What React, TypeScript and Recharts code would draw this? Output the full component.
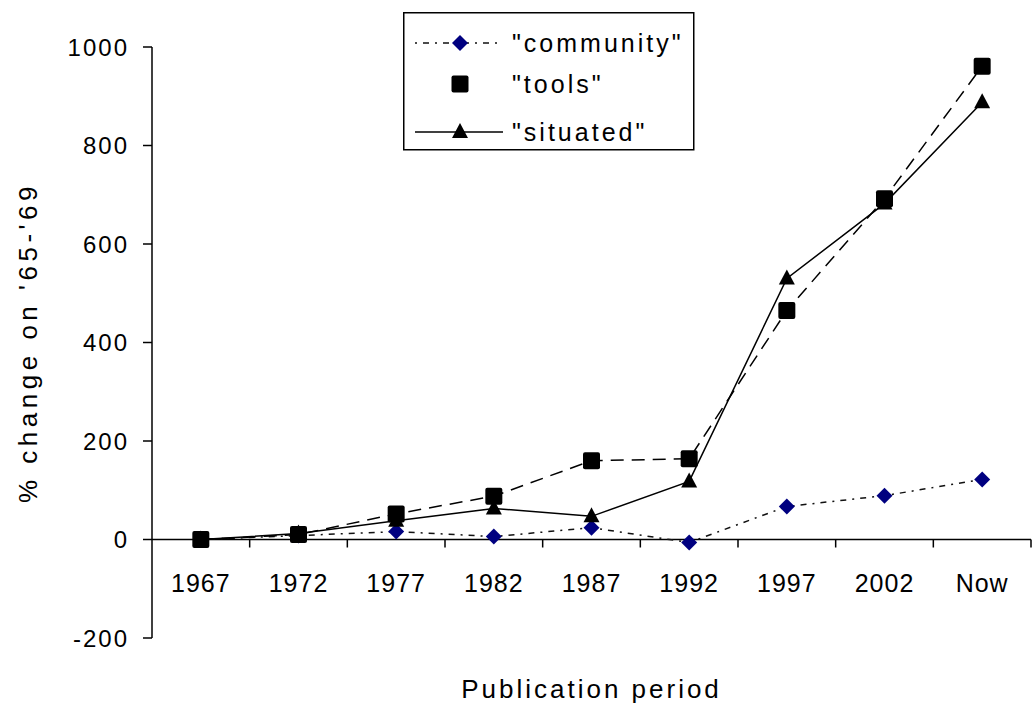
import React from 'react';
import { LineChart, Line, XAxis, YAxis, ReferenceLine, Legend } from 'recharts';

const categories = ['1967', '1972', '1977', '1982', '1987', '1992', '1997', '2002', 'Now'];
const community = [0, 8, 16, 6, 24, -6, 67, 89, 122];
const tools = [0, 10, 52, 88, 160, 164, 465, 692, 961];
const situated = [0, 12, 38, 63, 47, 118, 530, 682, 888];
const yTicks = [-200, 0, 200, 400, 600, 800, 1000];
const seriesNames = ['"community"', '"tools"', '"situated"'];
const yTitle = "% change on '65-'69";
const xTitle = 'Publication period';

const data = categories.map((c, i) => ({
  cat: c,
  community: community[i],
  tools: tools[i],
  situated: situated[i],
}));

const W = 1032;
const H = 710;
const PLOT_LEFT = 152;
const PLOT_RIGHT = 1031;
const PLOT_TOP = 47;
const PLOT_BOTTOM = 638;
const Y_MIN = -200;
const Y_MAX = 1000;
const BAND = (PLOT_RIGHT - PLOT_LEFT) / categories.length;
const ZERO_Y = PLOT_TOP + ((PLOT_BOTTOM - PLOT_TOP) * (Y_MAX - 0)) / (Y_MAX - Y_MIN);

const FONT = '"Liberation Sans", Arial, sans-serif';
const NAVY = '#000080';

const Square = (props: any) => {
  const { cx, cy } = props;
  if (cx == null || cy == null) return null;
  return <rect x={cx - 8.5} y={cy - 8.5} width={17} height={17} rx={2} fill="#000" />;
};
const Diamond = (props: any) => {
  const { cx, cy } = props;
  if (cx == null || cy == null) return null;
  return <polygon points={`${cx},${cy - 8} ${cx + 8},${cy} ${cx},${cy + 8} ${cx - 8},${cy}`} fill={NAVY} />;
};
const Triangle = (props: any) => {
  const { cx, cy } = props;
  if (cx == null || cy == null) return null;
  return <polygon points={`${cx},${cy - 9} ${cx + 8},${cy + 6} ${cx - 8},${cy + 6}`} fill="#000" />;
};

const XTick = (props: any) => {
  const { x, payload } = props;
  return (
    <g>
      <text
        x={x}
        y={ZERO_Y + 43}
        textAnchor="middle"
        dominantBaseline="central"
        fontFamily={FONT}
        fontSize={25}
        letterSpacing={1}
        fill="#000"
      >
        {payload.value}
      </text>
      <line x1={x + BAND / 2} x2={x + BAND / 2} y1={ZERO_Y} y2={ZERO_Y + 8} stroke="#000" strokeWidth={1.5} />
    </g>
  );
};

const LegendBox = () => {
  const rows = [43 - 12, 84 - 12, 132 - 12];
  return (
    <svg width={292} height={140} style={{ display: 'block', overflow: 'visible' }}>
      <rect x={0.75} y={0.75} width={290} height={137} fill="#fff" stroke="#000" strokeWidth={1.5} />
      <line x1={12} x2={100} y1={rows[0]} y2={rows[0]} stroke="#111" strokeWidth={1.5} strokeDasharray="2 6 6 6" />
      <Diamond cx={57} cy={rows[0]} />
      <Square cx={57} cy={rows[1]} />
      <line x1={12} x2={100} y1={rows[2]} y2={rows[2]} stroke="#000" strokeWidth={1.5} />
      <Triangle cx={57} cy={rows[2]} />
      {seriesNames.map((n, i) => (
        <text
          key={n}
          x={109}
          y={rows[i]}
          dominantBaseline="central"
          fontFamily={FONT}
          fontSize={25}
          letterSpacing={3}
          fill="#000"
        >
          {n}
        </text>
      ))}
    </svg>
  );
};

export default function App() {
  return (
    <div style={{ position: 'absolute', left: 0, top: 0, width: W, height: H, background: '#fff' }}>
      <LineChart
        width={W}
        height={H}
        data={data}
        margin={{ top: PLOT_TOP, right: W - PLOT_RIGHT, bottom: 0, left: 0 }}
      >
        <XAxis
          dataKey="cat"
          type="category"
          interval={0}
          height={H - PLOT_BOTTOM}
          padding={{ left: BAND / 2, right: BAND / 2 }}
          axisLine={false}
          tickLine={false}
          tick={<XTick />}
          label={{
            value: xTitle,
            position: 'insideBottom',
            offset: 12,
            style: { fontFamily: FONT, fontSize: 26, letterSpacing: 3, fill: '#000' },
          }}
        />
        <YAxis
          type="number"
          domain={[Y_MIN, Y_MAX]}
          ticks={yTicks}
          width={PLOT_LEFT}
          interval={0}
          allowDataOverflow
          axisLine={{ stroke: '#000', strokeWidth: 1.5 }}
          tickLine={{ stroke: '#000', strokeWidth: 1.5 }}
          tickSize={9}
          tickMargin={14}
          tick={{ fontFamily: FONT, fontSize: 24, letterSpacing: 2, fill: '#000' }}
          label={{
            value: yTitle,
            angle: -90,
            position: 'insideLeft',
            offset: 28,
            style: { textAnchor: 'middle', fontFamily: FONT, fontSize: 26, letterSpacing: 4.5, fill: '#000' },
          }}
        />
        <ReferenceLine y={0} stroke="#000" strokeWidth={1.5} />
        <Legend
          layout="vertical"
          align="center"
          verticalAlign="middle"
          content={<LegendBox />}
          wrapperStyle={{ left: 403, top: 12, width: 292, height: 140 }}
        />
        <Line
          dataKey="community"
          name={seriesNames[0]}
          stroke="#111"
          strokeWidth={1.5}
          strokeDasharray="2 6 6 6"
          dot={<Diamond />}
          activeDot={false}
          isAnimationActive={false}
        />
        <Line
          dataKey="tools"
          name={seriesNames[1]}
          stroke="#000"
          strokeWidth={1.5}
          strokeDasharray="13 8"
          dot={<Square />}
          activeDot={false}
          isAnimationActive={false}
        />
        <Line
          dataKey="situated"
          name={seriesNames[2]}
          stroke="#000"
          strokeWidth={1.5}
          dot={<Triangle />}
          activeDot={false}
          isAnimationActive={false}
        />
      </LineChart>
    </div>
  );
}
